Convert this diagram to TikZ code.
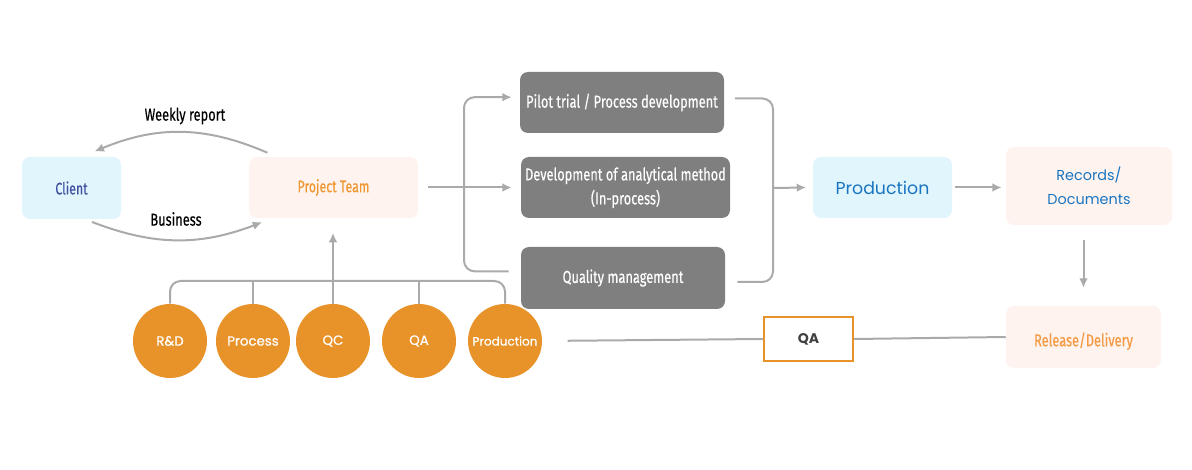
\documentclass[tikz,border=0pt]{standalone}
\usepackage{fontspec}
\setmainfont{Fira Sans}[FakeStretch=0.74,FakeBold=0.35]
\newfontfamily\geo{Poppins}
\newfontfamily\geob{Poppins}[FakeBold=0.6]
\usetikzlibrary{arrows.meta}
\definecolor{lgray}{HTML}{AAAAAA}
\definecolor{dgray}{HTML}{7F7F7F}
\definecolor{orng}{HTML}{E8922A}
\definecolor{lblue}{HTML}{E1F5FD}
\definecolor{peach}{HTML}{FEF3EF}
\definecolor{clienttxt}{HTML}{3F51A0}
\definecolor{pttxt}{HTML}{F0962F}
\definecolor{bluetxt}{HTML}{1A75C0}
\definecolor{reltxt}{HTML}{F59A43}
\definecolor{qatxt}{HTML}{404040}
\tikzset{
  box/.style={rectangle, rounded corners=6pt, inner sep=0pt, align=center, font=\fontsize{12.5}{15}\selectfont},
  graybox/.style={box, fill=dgray, text=white, font=\fontsize{13}{18}\selectfont},
  circ/.style={circle, fill=orng, minimum size=55.5pt, inner sep=0pt, text=white, font=\geob\fontsize{10}{12}\selectfont},
  conn/.style={draw=lgray, line width=1.5pt},
  arr/.style={conn, -{Latex[length=7pt,width=6.5pt]}},
  lbl/.style={font=\fontsize{13}{15}\selectfont, text=black}
}
\begin{document}
\begin{tikzpicture}[x=0.75pt,y=-0.75pt]
\useasboundingbox (0,0) rectangle (1192,470);
% nodes
\node[box, fill=lblue, text=clienttxt, minimum width=74.25pt, minimum height=46.5pt] (client) at (71.5,188) {Client};
\node[box, fill=peach, text=pttxt, minimum width=126.75pt, minimum height=45.75pt] (pt) at (333.5,187.5) {Project Team};
\node[graybox, minimum width=153pt, minimum height=45.75pt] (pilot) at (622,102.5) {Pilot trial / Process development};
\node[graybox, minimum width=156.75pt, minimum height=45.75pt] (dev) at (625.5,187.5) {Development of analytical method\\(In-process)};
\node[graybox, minimum width=153pt, minimum height=46.5pt] (qm) at (623,278) {Quality management};
\node[box, fill=lblue, text=bluetxt, minimum width=104.25pt, minimum height=45.75pt, font=\geo\fontsize{13}{15}\selectfont] (prod) at (882.5,187.5) {Production};
\node[box, fill=peach, text=bluetxt, minimum width=124.5pt, minimum height=58.5pt, font=\geo\fontsize{10.8}{18}\selectfont] (rec) at (1089,186) {Records/\\Documents};
\node[box, fill=peach, text=reltxt, minimum width=116.25pt, minimum height=46.5pt, font=\fontsize{13}{15}\selectfont] (rel) at (1083.5,337) {\raisebox{-7pt}[0pt][0pt]{Release/Delivery}};
\node[rectangle, draw=orng, line width=1.5pt, fill=white, minimum width=66.75pt, minimum height=33pt, text=qatxt, font=\geo\bfseries\fontsize{10.5}{12}\selectfont] (qa) at (808.5,339) {QA};
% circles
\node[circ] (rd) at (170,341) {R\&D};
\node[circ] (proc) at (253,341) {Process};
\node[circ] (qc) at (333,341) {QC};
\node[circ] (qac) at (419,341) {QA};
\node[circ, font=\geob\fontsize{9}{10}\selectfont] (prodc) at (505,341) {Production};
% coordinates
\coordinate (bus) at (333,281);
\coordinate (brL) at (464,186);
\coordinate (brR) at (773,188);
% client/project team arcs
\draw[arr] ([xshift=14pt,yshift=3pt]pt.north west) to[bend right=23] ([xshift=-20pt,yshift=4pt]client.north east);
\node[lbl] (weekly) at (185,116) {Weekly report};
\draw[arr] ([xshift=-22pt,yshift=-2pt]client.south east) to[bend right=21] ([xshift=10pt,yshift=-3pt]pt.south west);
\node[lbl] (biz) at (176,219) {Business};
% tree
\draw[conn, rounded corners=8pt] (rd.north) -- (rd.north |- bus) -- (prodc.north |- bus) -- (prodc.north);
\draw[conn] (proc.north) -- (proc.north |- bus);
\draw[conn] (qac.north) -- (qac.north |- bus);
\draw[arr, shorten >=11pt] (qc.north) -- (qc.north |- pt.south);
% project team to tasks
\draw[arr, shorten <=7.5pt, shorten >=6.75pt] (pt.east |- dev.west) -- (dev.west);
\draw[arr, rounded corners=8pt] ([xshift=-9pt,yshift=5pt]qm.west) -| (brL) |- ([xshift=-6pt,yshift=4pt]pilot.west);
\draw[conn, rounded corners=8pt] ([xshift=8pt,yshift=3pt]pilot.east) -| (brR) |- ([xshift=9pt,yshift=-3pt]qm.east);
\draw[arr] (brR) -- ([xshift=-5pt]prod.west);
\draw[arr, shorten <=2pt, shorten >=3pt] (prod.east) -- (prod.east -| rec.west);
\draw[arr, shorten <=11pt, shorten >=13.5pt] (rec.south -| rel.north) -- (rel.north);
\draw[conn, shorten <=19pt] (prodc.east) -- (qa.west);
\draw[conn] (qa.east) -- (rel.west);
\end{tikzpicture}
\end{document}
